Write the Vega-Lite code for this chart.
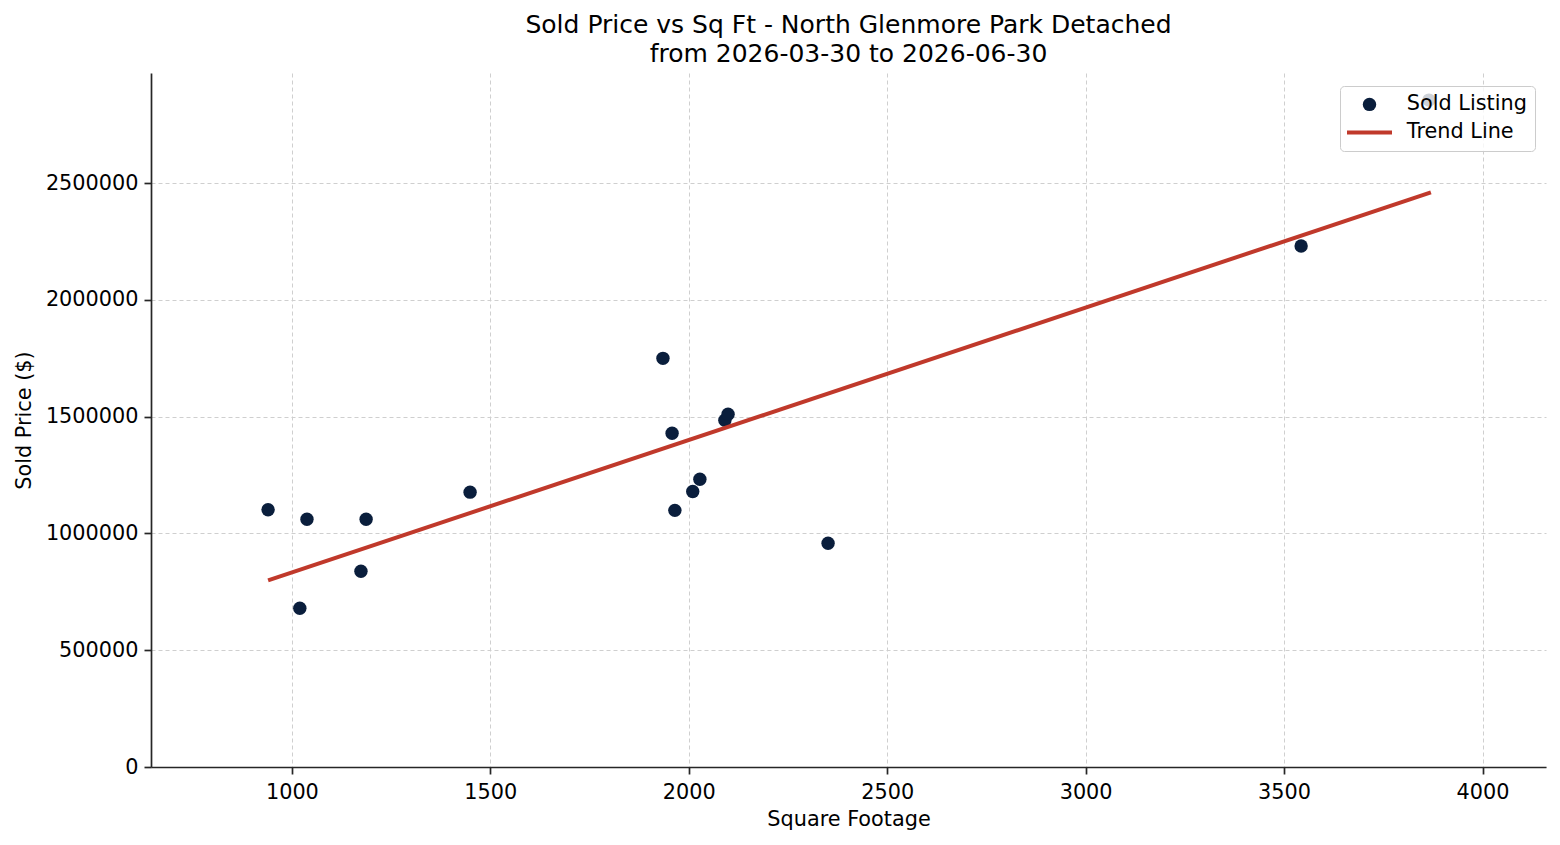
{
  "$schema": "https://vega.github.io/schema/vega-lite/v6.json",
  "width": 1395,
  "height": 694,
  "autosize": {"type": "none"},
  "padding": {"left": 151, "top": 73, "right": 14, "bottom": 78},
  "background": "white",
  "config": {
    "font": "DejaVu Sans",
    "view": {"stroke": null},
    "axis": {
      "labelFont": "DejaVu Sans",
      "labelFontSize": 20.8,
      "labelColor": "#000000",
      "titleFont": "DejaVu Sans",
      "titleFontSize": 20.8,
      "titleFontWeight": "normal",
      "titleColor": "#000000",
      "domainColor": "#262626",
      "domainWidth": 1.7,
      "tickColor": "#262626",
      "tickWidth": 1.7,
      "tickSize": 7,
      "labelPadding": 6,
      "grid": true,
      "gridColor": "#cfcfcf",
      "gridWidth": 1,
      "gridDash": [4, 3]
    }
  },
  "title": {
    "text": ["Sold Price vs Sq Ft - North Glenmore Park Detached", "from 2026-03-30 to 2026-06-30"],
    "font": "DejaVu Sans",
    "fontSize": 25,
    "fontWeight": "normal",
    "color": "#000000",
    "lineHeight": 29,
    "anchor": "middle",
    "frame": "group",
    "offset": 6
  },
  "datasets": {
    "points": [
      {"sqft": 940, "price": 1102000, "series": "Sold Listing"},
      {"sqft": 1038, "price": 1061000, "series": "Sold Listing"},
      {"sqft": 1020, "price": 680000, "series": "Sold Listing"},
      {"sqft": 1174, "price": 838000, "series": "Sold Listing"},
      {"sqft": 1187, "price": 1061000, "series": "Sold Listing"},
      {"sqft": 1449, "price": 1177000, "series": "Sold Listing"},
      {"sqft": 1935, "price": 1750000, "series": "Sold Listing"},
      {"sqft": 1958, "price": 1429000, "series": "Sold Listing"},
      {"sqft": 1965, "price": 1099000, "series": "Sold Listing"},
      {"sqft": 2010, "price": 1180000, "series": "Sold Listing"},
      {"sqft": 2028, "price": 1232000, "series": "Sold Listing"},
      {"sqft": 2091, "price": 1485000, "series": "Sold Listing"},
      {"sqft": 2099, "price": 1511000, "series": "Sold Listing"},
      {"sqft": 2351, "price": 958000, "series": "Sold Listing"},
      {"sqft": 3543, "price": 2231000, "series": "Sold Listing"},
      {"sqft": 3865, "price": 2856000, "series": "Sold Listing"}
    ],
    "trend": [
      {"sqft": 940, "price": 799000, "series": "Trend Line"},
      {"sqft": 3870, "price": 2461000, "series": "Trend Line"}
    ]
  },
  "encoding": {
    "x": {
      "field": "sqft",
      "type": "quantitative",
      "title": "Square Footage",
      "scale": {"domain": [645, 4160], "nice": false, "zero": false},
      "axis": {"values": [1000, 1500, 2000, 2500, 3000, 3500, 4000], "format": "d", "labelPadding": 8, "titlePadding": 8}
    },
    "y": {
      "field": "price",
      "type": "quantitative",
      "title": "Sold Price ($)",
      "scale": {"domain": [0, 2972000], "nice": false, "zero": false},
      "axis": {"values": [0, 500000, 1000000, 1500000, 2000000, 2500000], "format": "d", "titlePadding": 11}
    },
    "color": {
      "field": "series",
      "type": "nominal",
      "scale": {"domain": ["Sold Listing", "Trend Line"], "range": ["#0a1e3c", "#c0392b"]},
      "legend": {
        "title": null,
        "orient": "none",
        "legendX": 1189,
        "legendY": 13,
        "fillColor": "rgba(255,255,255,0.8)",
        "strokeColor": "#cccccc",
        "cornerRadius": 4,
        "padding": 8,
        "rowPadding": 6,
        "labelFont": "DejaVu Sans",
        "labelFontSize": 20.8,
        "labelColor": "#000000",
        "labelOffset": 38,
        "symbolSize": 180,
        "encode": {
          "symbols": {
            "update": {
              "x": {"value": 21.5},
              "shape": {"signal": "datum.value === 'Trend Line' ? 'stroke' : 'circle'"},
              "size": {"signal": "datum.value === 'Trend Line' ? 2025 : 180"},
              "strokeWidth": {"signal": "datum.value === 'Trend Line' ? 4 : 0"},
              "stroke": {"signal": "datum.value === 'Trend Line' ? '#c0392b' : 'transparent'"},
              "fill": {"signal": "datum.value === 'Trend Line' ? 'transparent' : '#0a1e3c'"},
              "opacity": {"value": 1}
            }
          }
        }
      }
    }
  },
  "layer": [
    {
      "data": {"name": "points"},
      "mark": {"type": "point", "filled": true, "size": 180, "opacity": 1, "shape": "circle"}
    },
    {
      "data": {"name": "trend"},
      "mark": {"type": "line", "strokeWidth": 4}
    }
  ]
}
